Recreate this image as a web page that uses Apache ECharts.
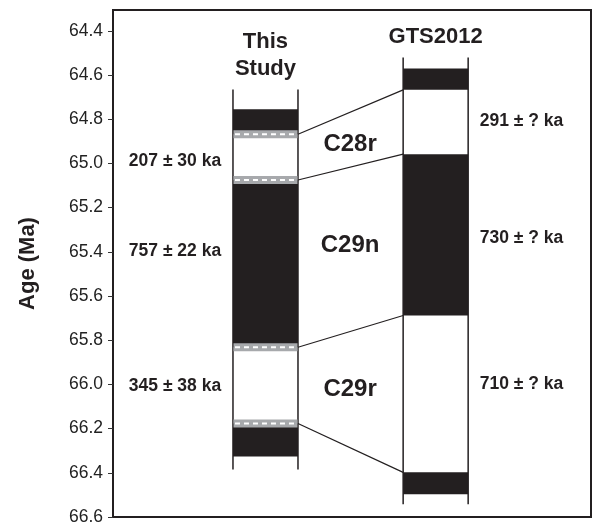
<!DOCTYPE html>
<html>
<head>
<meta charset="utf-8">
<script src="https://cdn.jsdelivr.net/npm/echarts@6/dist/echarts.min.js"></script>
<style>
  html, body { margin: 0; padding: 0; background: #fff; }
  #chart { width: 594px; height: 526px; }
</style>
</head>
<body>
<div id="chart"></div>
<script>
// Age axis tick labels (Ma)
const ageTicks = [64.4, 64.6, 64.8, 65.0, 65.2, 65.4, 65.6, 65.8, 66.0, 66.2, 66.4, 66.6];

// This Study: polarity boundaries (Ma), alternating normal / reversed, starting with normal
const studyBoundaries = [64.755, 64.868, 65.075, 65.832, 66.177, 66.326];
const studyExtent = [64.665, 66.385];
const studyErrors = [30, 22, 38];

// GTS2012: polarity boundaries (Ma), same alternation
const gtsBoundaries = [64.570, 64.667, 64.958, 65.688, 66.398, 66.497];
const gtsExtent = [64.521, 66.542];

const chronNames = ['C28r', 'C29n', 'C29r'];
const columnTitles = ['This\nStudy', 'GTS2012'];

// Layout (x in 0-100 plot units, y in Ma)
const layout = {
  studyX: [25.1, 38.7],
  gtsX: [60.7, 74.3],
  leftLabelX: 12.97,
  chronLabelX: 49.6,
  rightLabelX: 85.46,
  studyLabelAge: [64.988, 65.397, 66.008],
  chronLabelAge: [64.916, 65.370, 66.021],
  gtsLabelAge: [64.809, 65.338, 65.999],
  studyTitleAge: 64.51,
  gtsTitleAge: 64.427
};

const INK = '#231f20';
const FONT = '"Liberation Sans", Arial, Helvetica, sans-serif';

function durationKa(b, i) {
  return Math.round((b[i + 2] - b[i + 1]) * 1000);
}

function renderColumns(params, api) {
  const pt = (x, age) => api.coord([x, age]);
  const children = [];

  function column(xr, bounds, extent) {
    const [xl, xrr] = xr;
    // normal polarity (black) intervals
    for (let i = 0; i + 1 < bounds.length; i += 2) {
      const a = pt(xl, bounds[i]);
      const b = pt(xrr, bounds[i + 1]);
      children.push({
        type: 'rect',
        shape: { x: a[0], y: a[1], width: b[0] - a[0], height: b[1] - a[1] },
        style: { fill: INK }
      });
    }
    // column side lines
    [xl, xrr].forEach(x => {
      const p0 = pt(x, extent[0]);
      const p1 = pt(x, extent[1]);
      children.push({
        type: 'line',
        shape: { x1: p0[0], y1: p0[1], x2: p1[0], y2: p1[1] },
        style: { stroke: INK, lineWidth: 1.5 }
      });
    });
  }

  column(layout.studyX, studyBoundaries, studyExtent);
  column(layout.gtsX, gtsBoundaries, gtsExtent);

  // reversal uncertainty bands in This Study
  for (let i = 1; i <= 4; i++) {
    const a = pt(layout.studyX[0], studyBoundaries[i]);
    const b = pt(layout.studyX[1], studyBoundaries[i]);
    children.push({
      type: 'rect',
      shape: { x: a[0] + 0.5, y: a[1] - 4, width: b[0] - a[0] - 1, height: 8 },
      style: { fill: '#a7a9ac' }
    });
    children.push({
      type: 'line',
      shape: { x1: a[0] + 2, y1: a[1], x2: b[0], y2: b[1] },
      style: { stroke: '#ffffff', lineWidth: 2, lineDash: [5, 4] }
    });
  }

  // tie lines between the two polarity columns
  for (let i = 1; i <= 4; i++) {
    const a = pt(layout.studyX[1], studyBoundaries[i]);
    const b = pt(layout.gtsX[0], gtsBoundaries[i]);
    children.push({
      type: 'line',
      shape: { x1: a[0], y1: a[1], x2: b[0], y2: b[1] },
      style: { stroke: INK, lineWidth: 1.2 }
    });
  }

  function text(str, x, age, size, extra) {
    const p = pt(x, age);
    children.push({
      type: 'text',
      x: p[0], y: p[1],
      style: Object.assign({
        text: str, align: 'center', verticalAlign: 'middle',
        fontFamily: FONT, fontWeight: 'bold', fontSize: size, fill: INK
      }, extra || {})
    });
  }

  // column titles
  text(columnTitles[0], (layout.studyX[0] + layout.studyX[1]) / 2, layout.studyTitleAge, 22, { lineHeight: 27 });
  text(columnTitles[1], (layout.gtsX[0] + layout.gtsX[1]) / 2, layout.gtsTitleAge, 22);

  for (let i = 0; i < 3; i++) {
    text(durationKa(studyBoundaries, i) + ' \u00b1 ' + studyErrors[i] + ' ka', layout.leftLabelX, layout.studyLabelAge[i], 17.5);
    text(chronNames[i], layout.chronLabelX, layout.chronLabelAge[i], 24);
    text(durationKa(gtsBoundaries, i) + ' \u00b1 ? ka', layout.rightLabelX, layout.gtsLabelAge[i], 17.5);
  }

  return { type: 'group', children };
}

const chart = echarts.init(document.getElementById('chart'), null, { renderer: 'canvas' });
chart.setOption({
  animation: false,
  backgroundColor: '#ffffff',
  grid: {
    left: 113, right: 3, top: 10, bottom: 5,
    show: true, borderColor: INK, borderWidth: 2, backgroundColor: 'transparent'
  },
  xAxis: { type: 'value', min: 0, max: 100, show: false },
  yAxis: {
    type: 'value',
    inverse: true,
    min: 64.3057,
    max: 66.6,
    name: 'Age (Ma)',
    nameLocation: 'middle',
    nameGap: 74,
    nameRotate: 90,
    nameTextStyle: { fontFamily: FONT, fontWeight: 'bold', fontSize: 22, color: INK },
    axisLine: { show: true, lineStyle: { color: INK, width: 2 } },
    axisTick: { show: true, length: 5, customValues: ageTicks, lineStyle: { color: '#333', width: 1 } },
    axisLabel: {
      customValues: ageTicks, margin: 10,
      formatter: v => v.toFixed(1),
      fontFamily: FONT, fontSize: 17.5, color: '#222'
    },
    splitLine: { show: false }
  },
  series: [{
    type: 'custom',
    clip: false,
    silent: true,
    data: [[0, 0]],
    renderItem: renderColumns
  }]
});
</script>
</body>
</html>
